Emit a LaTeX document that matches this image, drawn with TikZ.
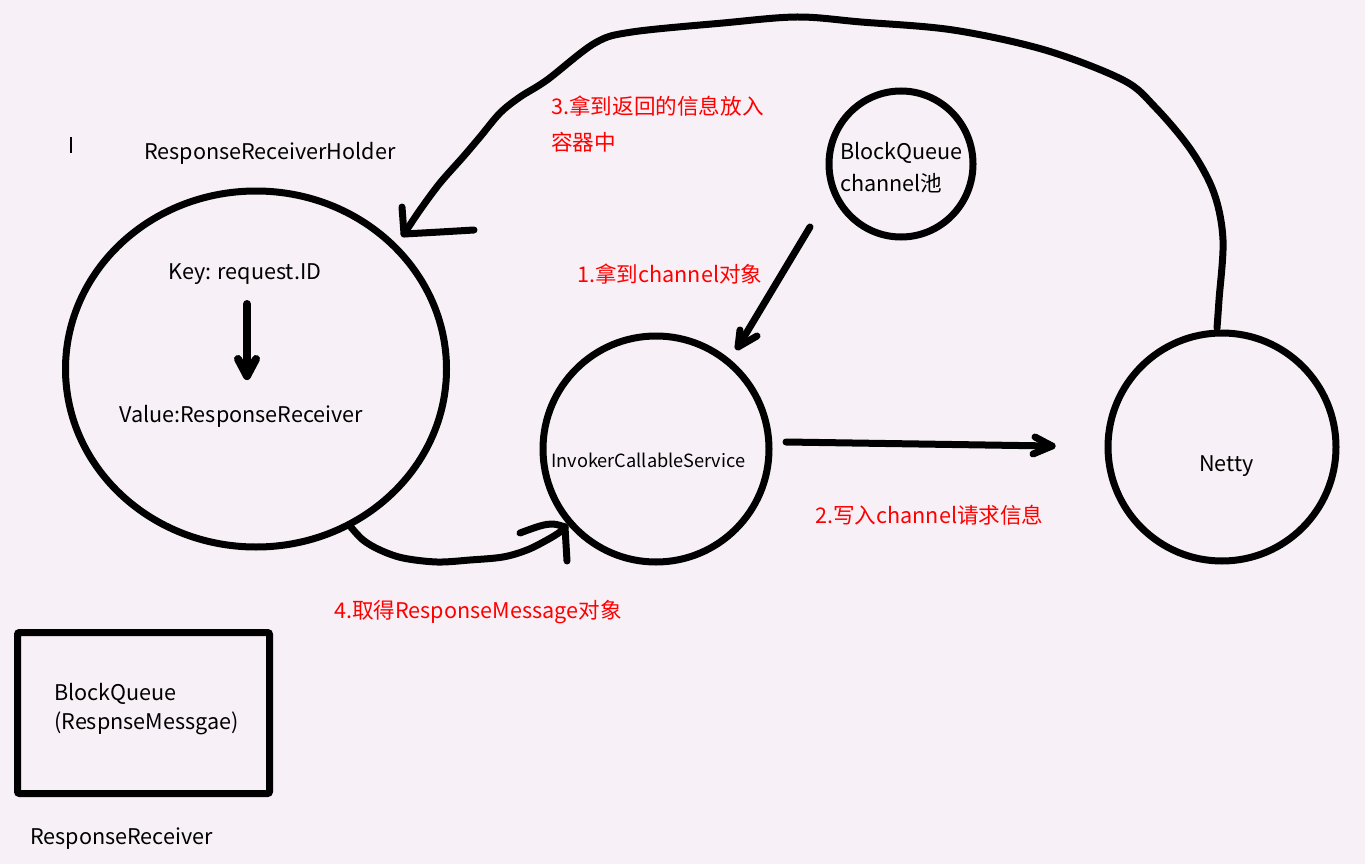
\documentclass[tikz,border=0pt]{standalone}
\usepackage{fontspec}
\setmainfont{Noto Sans CJK SC}
\usetikzlibrary{shapes.geometric}
\definecolor{bg}{RGB}{247,241,247}
\definecolor{lbl}{RGB}{255,0,0}
\tikzset{
  stroke/.style={line width=7pt, line cap=round, line join=round, black},
  ring/.style={draw, ellipse, line width=7pt, inner sep=0pt},
  txt/.style={anchor=base west, inner sep=0pt, font=\fontsize{21.6}{25}\selectfont},
  small/.style={anchor=base west, inner sep=0pt, font=\fontsize{18.2}{21}\selectfont},
  red/.style={anchor=base west, inner sep=0pt, text=lbl, font=\fontsize{21.6}{25}\selectfont},
}
\begin{document}
\begin{tikzpicture}[x=1pt,y=-1pt]
\fill[bg] (0,0) rectangle (1365,864);
\useasboundingbox (0,0) rectangle (1365,864);

% circles
\node[ring, minimum width=381pt, minimum height=356pt] (holder) at (256,369) {};
\node[ring, minimum width=226pt, minimum height=226pt] (invoker) at (656,449) {};
\node[ring, minimum width=144pt, minimum height=146pt] (pool) at (901,164) {};
\node[ring, minimum width=228pt, minimum height=228pt] (netty) at (1222,447) {};
\draw[line width=7pt, rounded corners=2pt] (17.5,632.5) rectangle (269.5,793.5);
\coordinate (box) at (143,713);

% texts
\node[txt] (tHolder) at (144,159) {ResponseReceiverHolder};
\node[txt] (tKey) at (168,279) {Key: request.ID};
\node[txt] (tVal) at (119,422) {Value:ResponseReceiver};
\node[small] (tInv) at (551,467) {InvokerCallableService};
\node[txt] (tBQ) at (840,159) {BlockQueue};
\node[txt] (tCh) at (840,191) {channel池};
\node[txt] (tNetty) at (1199,471) {Netty};
\node[txt] (tBQ2) at (54,700) {BlockQueue};
\node[txt] (tRM) at (54,729) {(RespnseMessgae)};
\node[txt] (tRR) at (30,844) {ResponseReceiver};

\node[red] (l3a) at (551,115) {3.拿到返回的信息放入};
\node[red] (l3b) at (551,150) {容器中};
\node[red] (l1) at (577,282) {1.拿到channel对象};
\node[red] (l2) at (815,523) {2.写入channel请求信息};
\node[red] (l4) at (334,618) {4.取得ResponseMessage对象};

% small stray mark
\draw[line width=1.2pt] (71,137) -- (71,153);

% key -> value arrow
\coordinate (kS) at (247,304);
\coordinate (kE) at (247,376);
\draw[stroke, line width=8pt] (kS) -- (kE);
\draw[stroke, line width=8pt] (238,359) -- (kE) -- (256,359);

% 1: pool -> invoker
\coordinate (a1S) at (810,227);
\coordinate (a1E) at (738,347);
\draw[stroke] (a1S) -- (a1E);
\draw[stroke] (740,330) -- (a1E) -- (757,336);

% 2: invoker -> netty
\coordinate (a2S) at (786,442);
\coordinate (a2E) at (1052,446);
\draw[stroke] (a2S) -- (a2E);
\draw[stroke] (1035,437) -- (a2E) -- (1033,454);

% 3: netty -> holder (big curve)
\coordinate (a3S) at (1217,328);
\coordinate (a3E) at (404,234);
\draw[stroke] plot[smooth, tension=0.55] coordinates {
  (a3S) (1219,300) (1223,240) (1214,193) (1191,150) (1155,107) (1123,80)
  (1045,50) (953,30) (861,22) (797,17) (723,23) (632,32) (595,43) (547,80)
  (520,97) (500,113) (480,137) (463,157) (440,183) (420,210) (a3E)};
\draw[stroke] (402,207) -- (a3E) -- (440,232) -- (474,230);

% 4: holder -> invoker
\coordinate (a4S) at (350,526);
\coordinate (a4E) at (565,527);
\draw[stroke] plot[smooth, tension=0.55] coordinates {
  (a4S) (363,540) (380,550) (403,558) (437,562) (470,560) (503,557)
  (527,550) (547,540) (560,532) (a4E)};
\draw[stroke] plot[smooth, tension=0.6] coordinates {(520,533) (540,526) (553,524) (a4E)};
\draw[stroke] (567,561) -- (a4E);
\end{tikzpicture}
\end{document}
